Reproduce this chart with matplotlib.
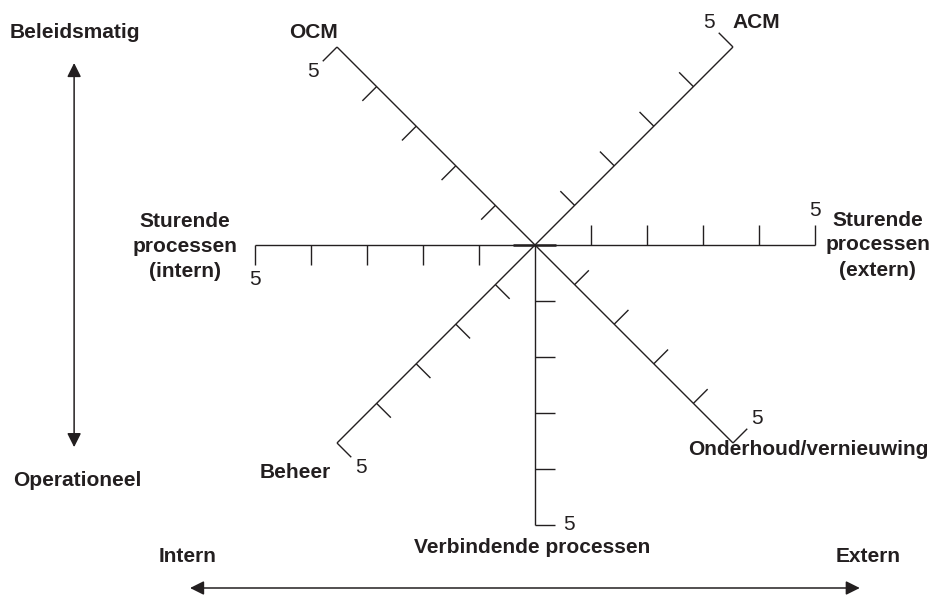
import numpy as np
import matplotlib
matplotlib.use("Agg")
import matplotlib.pyplot as plt

plt.rcParams['font.family'] = ['Liberation Sans', 'DejaVu Sans']

# star axes: label, direction in degrees
axis_labels = ["Sturende\nprocessen\n(extern)", "ACM", "OCM", "Sturende\nprocessen\n(intern)",
               "Beheer", "Verbindende processen", "Onderhoud/vernieuwing"]
axis_angles = [0, 45, 135, 180, 225, 270, 315]
scale_max = 5
scale_ticks = [1, 2, 3, 4]
end_label = "5"

# where each axis name sits (data units, 1 unit = 1 scale step)
label_pos = [(6.12, 0.0), (3.96, 3.98), (-3.96, 3.79), (-6.25, -0.02),
             (-4.29, -4.07), (-0.05, -5.41), (4.88, -3.66)]

side_labels = {"Beleidsmatig": (-8.21, 3.80), "Operationeel": (-8.18, -4.20),
               "Intern": (-6.21, -5.57), "Extern": (5.95, -5.57)}

ink = '#231f20'
tick_len = 0.36
fs = 15

fig = plt.figure(figsize=(9.37, 5.97), dpi=100)
ax = fig.add_axes([0, 0, 1, 1])
unit = 56.0
ax.set_xlim(-535 / unit, (937 - 535) / unit)
ax.set_ylim(-(597 - 245) / unit, 245 / unit)
ax.axis('off')

for name, ang, (lx, ly) in zip(axis_labels, axis_angles, label_pos):
    a = np.deg2rad(ang)
    d = np.array([np.cos(a), np.sin(a)])
    n = np.array([np.cos(a + np.pi / 2), np.sin(a + np.pi / 2)])
    end = d * scale_max
    ax.plot([0, end[0]], [0, end[1]], color=ink, lw=1.0, solid_capstyle='butt')
    for t in scale_ticks + [scale_max]:
        p = d * t
        q = p + n * tick_len
        ax.plot([p[0], q[0]], [p[1], q[1]], color=ink, lw=1.0, solid_capstyle='butt')
    lp = end + n * (tick_len + 0.25)
    ax.text(lp[0], lp[1], end_label, fontsize=fs, color=ink, ha='center', va='center')
    ax.text(lx, ly, name, fontsize=fs, fontweight='bold', color=ink,
            ha='center', va='center', linespacing=1.4)

# small thicker stub through the centre
ax.plot([-0.4, 0.37], [0, 0], color=ink, lw=1.8, solid_capstyle='butt')

for txt, (x, y) in side_labels.items():
    ax.text(x, y, txt, fontsize=fs, fontweight='bold', color=ink, ha='center', va='center')

ax.annotate('', xy=(-8.23, 3.25), xytext=(-8.23, -3.61),
            arrowprops=dict(arrowstyle='<|-|>', color=ink, lw=1.1, mutation_scale=21,
                            shrinkA=0, shrinkB=0))
ax.annotate('', xy=(5.80, -6.125), xytext=(-6.16, -6.125),
            arrowprops=dict(arrowstyle='<|-|>', color=ink, lw=1.1, mutation_scale=21,
                            shrinkA=0, shrinkB=0))

fig.savefig('out.png', dpi=100, facecolor='white')
